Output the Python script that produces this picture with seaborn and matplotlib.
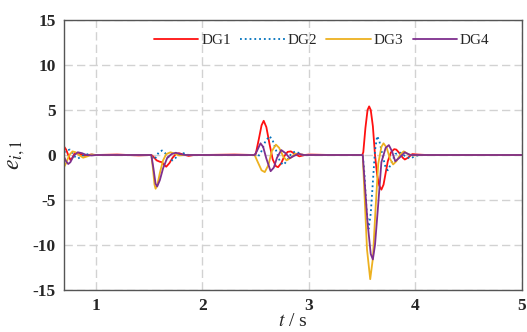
import numpy as np
import pandas as pd
import matplotlib
matplotlib.use("Agg")
import matplotlib.pyplot as plt
import seaborn as sns

# ---- data ----
t_dg1 = [0.70, 0.72, 0.74, 0.76, 0.78, 0.80, 0.83, 0.86, 0.90, 0.95, 1.00,
         1.20, 1.40, 1.52, 1.54, 1.57, 1.60, 1.62, 1.64, 1.66, 1.69, 1.72, 1.75, 1.78, 1.82, 1.87, 1.92,
         2.00, 2.30, 2.48, 2.50, 2.53, 2.555, 2.575, 2.60, 2.63, 2.66, 2.69, 2.71, 2.74, 2.77, 2.80, 2.83, 2.87, 2.91, 2.96, 3.00,
         3.20, 3.50, 3.51, 3.53, 3.55, 3.565, 3.58, 3.60, 3.62, 3.64, 3.66, 3.68, 3.70, 3.72, 3.74, 3.77, 3.80, 3.82, 3.85, 3.88, 3.90, 3.93, 3.97, 4.02, 4.10, 5.00]
v_dg1 = [0.95, 0.6, 0.0, -0.55, -0.3, 0.2, 0.25, 0.05, -0.1, 0.05, 0.0,
         0.05, -0.05, 0.0, -0.2, -0.6, -0.75, -0.8, -1.1, -1.3, -0.9, -0.3, 0.1, 0.2, 0.05, -0.1, 0.0,
         0.0, 0.05, 0.0, 0.1, 1.8, 3.3, 3.8, 3.1, 1.2, -0.5, -1.25, -1.35, -0.9, -0.1, 0.35, 0.4, 0.1, -0.15, 0.0, 0.05,
         0.0, 0.0, 0.3, 3.0, 5.0, 5.4, 5.0, 3.2, 0.0, -2.2, -3.4, -3.85, -3.3, -2.0, -0.7, 0.3, 0.65, 0.6, 0.2, -0.3, -0.5, -0.3, 0.1, 0.05, 0.0, 0.0]

t_dg2 = [0.70, 0.73, 0.755, 0.78, 0.81, 0.83, 0.86, 0.90, 0.95, 1.00,
         1.52, 1.54, 1.56, 1.59, 1.62, 1.65, 1.69, 1.72, 1.75, 1.79, 1.82, 1.87,
         2.49, 2.52, 2.55, 2.59, 2.63, 2.66, 2.70, 2.73, 2.76, 2.79, 2.83, 2.87, 2.91, 2.95, 3.00,
         3.505, 3.52, 3.54, 3.56, 3.58, 3.60, 3.62, 3.64, 3.66, 3.69, 3.72, 3.74, 3.77, 3.81, 3.85, 3.90, 3.95, 4.00, 4.05, 5.00]
v_dg2 = [0.3, 0.5, 0.6, 0.2, -0.3, -0.4, -0.2, 0.1, 0.05, 0.0,
         0.0, -0.5, -0.3, 0.3, 0.5, 0.2, -0.4, -0.6, -0.3, 0.1, 0.2, 0.0,
         0.0, -0.2, 0.3, 1.5, 2.1, 1.6, 0.2, -0.8, -1.1, -0.7, 0.1, 0.4, 0.2, -0.05, 0.0,
         0.0, -2.0, -6.0, -8.2, -6.5, -3.0, 0.5, 2.1, 1.6, 0.0, -1.4, -1.7, -1.0, 0.1, 0.3, -0.1, -0.4, -0.1, 0.0, 0.0]

t_dg3 = [0.70, 0.72, 0.75, 0.78, 0.81, 0.84, 0.88, 0.92, 0.96, 1.00,
         1.52, 1.535, 1.55, 1.56, 1.575, 1.60, 1.63, 1.66, 1.70, 1.74, 1.78, 1.83,
         2.49, 2.52, 2.555, 2.585, 2.62, 2.65, 2.69, 2.72, 2.76, 2.79, 2.83, 2.87, 2.91, 2.96,
         3.505, 3.52, 3.545, 3.575, 3.60, 3.625, 3.65, 3.68, 3.70, 3.73, 3.76, 3.79, 3.82, 3.86, 3.89, 3.93, 3.98, 4.05, 5.00]
v_dg3 = [-1.35, -0.9, 0.0, 0.4, 0.3, 0.0, -0.3, -0.15, 0.05, 0.0,
         0.0, -1.5, -3.3, -3.75, -3.4, -2.0, -0.6, 0.1, 0.3, 0.15, -0.05, 0.0,
         0.0, -0.8, -1.7, -1.9, -1.1, 0.4, 1.15, 0.8, -0.2, -0.6, -0.3, 0.15, 0.1, 0.0,
         0.0, -4.0, -10.5, -13.8, -11.5, -6.0, -1.0, 0.9, 1.3, 0.8, -0.4, -1.05, -0.7, 0.1, 0.4, 0.1, -0.05, 0.0, 0.0]

t_dg4 = [0.70, 0.72, 0.74, 0.76, 0.79, 0.83, 0.87, 0.91, 0.96, 1.00,
         1.52, 1.54, 1.56, 1.575, 1.60, 1.63, 1.67, 1.71, 1.75, 1.79, 1.84,
         2.49, 2.51, 2.545, 2.57, 2.60, 2.64, 2.67, 2.70, 2.74, 2.78, 2.82, 2.86, 2.90, 2.95,
         3.505, 3.52, 3.55, 3.58, 3.60, 3.62, 3.65, 3.68, 3.72, 3.75, 3.78, 3.81, 3.85, 3.90, 3.95, 4.02, 5.00]
v_dg4 = [-0.2, -0.7, -1.0, -0.8, -0.1, 0.3, 0.2, 0.0, -0.05, 0.0,
         0.0, -1.5, -3.2, -3.5, -2.8, -1.5, -0.3, 0.1, 0.25, 0.1, 0.0,
         0.0, 0.4, 1.3, 0.9, -0.4, -1.8, -1.4, -0.3, 0.55, 0.2, -0.35, -0.1, 0.15, 0.0,
         0.0, -2.5, -7.5, -11.0, -11.6, -10.0, -5.5, -0.8, 0.8, 1.1, 0.4, -0.7, -0.3, 0.3, 0.0, 0.0, 0.0]

series_names = ["DG1", "DG2", "DG3", "DG4"]
x_ticks = [1, 2, 3, 4, 5]
y_ticks = [-15, -10, -5, 0, 5, 10, 15]

sns.set_theme(style="white")
plt.rcParams["font.family"] = ["Liberation Serif", "DejaVu Serif"]
plt.rcParams["mathtext.fontset"] = "stix"

fig = plt.figure(figsize=(5.27, 3.32), dpi=100)
ax = fig.add_axes([0.1214, 0.1265, 0.8691, 0.8133])

colors = ["#FF1010", "#0072BD", "#EDB120", "#7E2F8E"]
styles = ["-", ":", "-", "-"]
data = [(t_dg1, v_dg1), (t_dg2, v_dg2), (t_dg3, v_dg3), (t_dg4, v_dg4)]
for name, (tt, vv), c, ls in zip(series_names, data, colors, styles):
    df = pd.DataFrame({"t": tt, "v": vv})
    sns.lineplot(data=df, x="t", y="v", ax=ax, color=c, linestyle=ls,
                 linewidth=1.3, label=name, sort=False, estimator=None)

ax.set_xlim(0.70, 5.0)
ax.set_ylim(-15, 15)
ax.set_xticks(x_ticks)
ax.set_yticks(y_ticks)
ax.set_xticklabels([str(v) for v in x_ticks], fontweight="bold", fontsize=12.5)
ax.set_yticklabels([str(v) for v in y_ticks], fontweight="bold", fontsize=12.5)
ax.tick_params(axis="x", direction="in", length=3, color="#555555", pad=6)
ax.tick_params(axis="y", direction="in", length=3, color="#555555", pad=6)
ax.grid(True, linestyle=(0, (6, 3)), color="#d2d2d2", linewidth=1.0)
ax.set_axisbelow(True)
for s in ax.spines.values():
    s.set_color("#555555")
    s.set_linewidth(1.0)

ax.set_xlabel("$t$ / s", fontsize=14, labelpad=-1)
ax.set_ylabel("$e_{i,1}$", fontsize=17, labelpad=4)

leg = ax.legend(loc="center", bbox_to_anchor=(0.563, 0.925), ncol=4, frameon=False,
                fontsize=11, handlelength=2.9, handletextpad=0.2, columnspacing=0.6)

fig.savefig("out.png", dpi=100)
